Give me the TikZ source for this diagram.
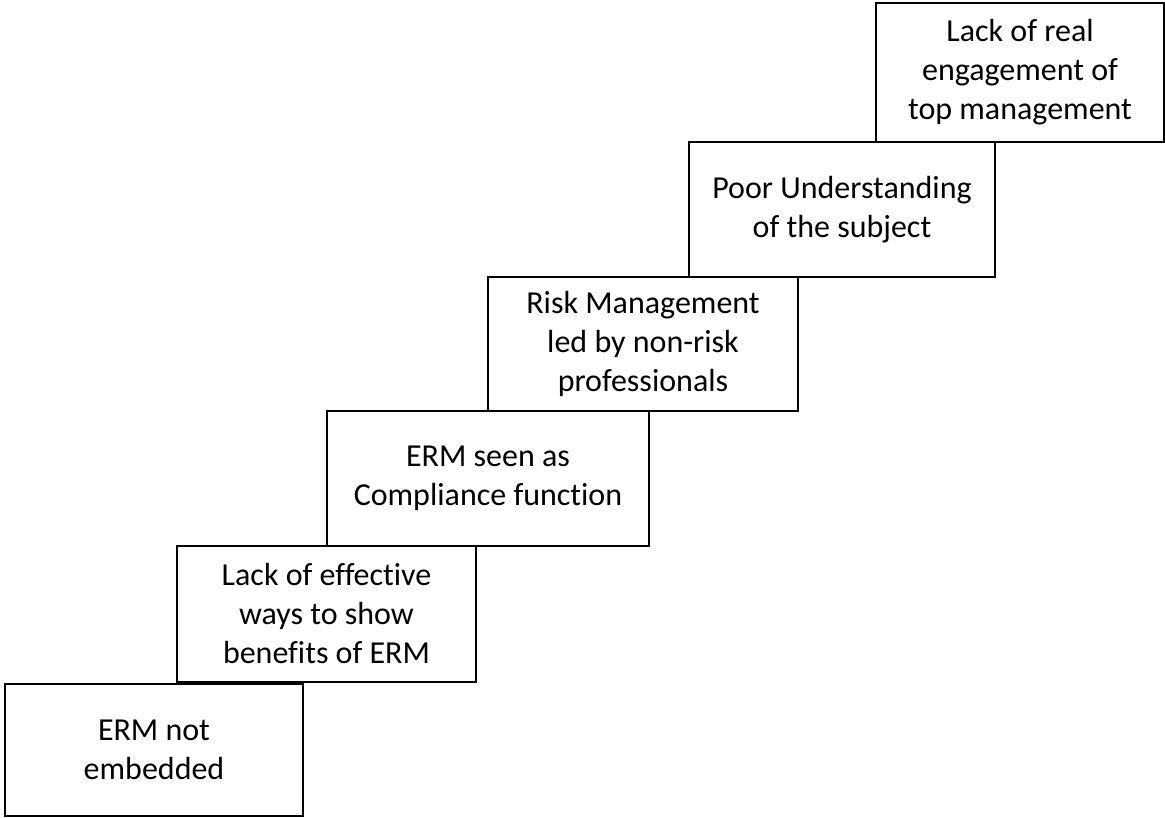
\documentclass[tikz,border=0pt]{standalone}
\usepackage{fontspec}
\setmainfont[Ligatures={NoCommon}]{Carlito}
\usepackage{tikz}

\tikzset{
  stepbox/.style={draw, line width=2pt, align=center, inner sep=0pt,
    font=\fontsize{32}{39}\selectfont},
}

\begin{document}
\begin{tikzpicture}[x=1pt, y=-1pt]
\useasboundingbox (0,0) rectangle (1165,818);
% bottom step
\node[stepbox, minimum width=298pt, minimum height=132pt] (notembedded) at (154,750) {ERM not\\embedded};
\node[stepbox, minimum width=299pt, minimum height=136pt] (benefits) at (326.5,614) {Lack of effective\\ways to show\\benefits of ERM};
% middle steps
\node[stepbox, minimum width=322pt, minimum height=135pt] (compliance) at (488,478.5) {ERM seen as\\Compliance function};
\node[stepbox, minimum width=310pt, minimum height=134pt] (nonrisk) at (643,344) {Risk Management\\led by non-risk\\professionals};
% top steps
\node[stepbox, minimum width=306pt, minimum height=135pt] (understanding) at (842,209.5) {Poor Understanding\\of the subject};
\node[stepbox, minimum width=288pt, minimum height=139pt] (topmgmt) at (1020,72.5) {Lack of real\\engagement of\\top management};
\end{tikzpicture}
\end{document}
